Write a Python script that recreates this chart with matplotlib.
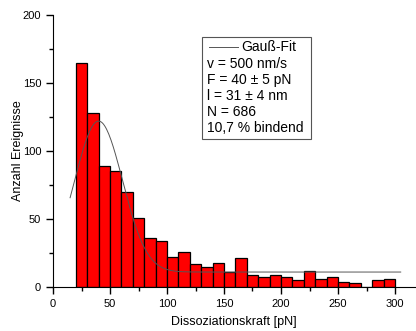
import numpy as np
import matplotlib.pyplot as plt
from matplotlib.patches import Rectangle
from matplotlib.lines import Line2D

plt.rcParams['font.family'] = ['Liberation Sans', 'DejaVu Sans']

# Histogramm der Dissoziationskräfte (10 pN Klassen)
bin_edges = np.arange(20, 310, 10)
counts = [165, 128, 89, 85, 70, 51, 36, 34, 22, 26, 17, 15, 18, 11, 21,
          9, 7, 9, 7, 5, 12, 6, 7, 4, 3, 0, 5, 6]

# Gauß-Fit Parameter
y0 = 11
amp = 111
xc = 40
sigma = 21
fit_x = np.linspace(15, 305, 300)
fit_y = y0 + amp * np.exp(-(fit_x - xc) ** 2 / (2 * sigma ** 2))

info_lines = ['v = 500 nm/s', 'F = 40 ± 5 pN', 'l = 31 ± 4 nm',
              'N = 686', '10,7 % bindend']

fig = plt.figure(figsize=(4.16, 3.31), dpi=100)
ax = fig.add_axes([53 / 416, 1 - 287 / 331, 362 / 416, 272 / 331])

ax.bar(bin_edges[:-1], counts, width=10, align='edge', color='#ff0000',
       edgecolor='black', linewidth=0.9)
ax.plot(fit_x, fit_y, color='#555555', linewidth=0.7)

ax.set_xlim(0, 362 / 1.14)
ax.set_ylim(0, 200)
ax.set_xticks(np.arange(0, 301, 50))
ax.set_xticks(np.arange(25, 301, 50), minor=True)
ax.set_yticks(np.arange(0, 201, 50))
ax.set_yticks(np.arange(25, 200, 50), minor=True)
ax.tick_params(which='major', direction='out', length=5, width=1, labelsize=8)
ax.tick_params(which='minor', direction='out', length=3, width=1)
for side in ['top', 'right']:
    ax.spines[side].set_visible(False)
ax.set_xlabel('Dissoziationskraft [pN]', fontsize=9, labelpad=5)
ax.set_ylabel('Anzahl Ereignisse', fontsize=9, labelpad=-1)

# Infobox
def px(x, y):
    return ((x - 53) / 362, (287 - y) / 272)

bx0, by0 = px(202, 139)
bx1, by1 = px(311, 37)
ax.add_patch(Rectangle((bx0, by0), bx1 - bx0, by1 - by0, transform=ax.transAxes,
                       facecolor='white', edgecolor='#555555', linewidth=0.8,
                       zorder=5))
lx0, ly = px(209, 47)
lx1, _ = px(238, 47)
ax.add_line(Line2D([lx0, lx1], [ly, ly], transform=ax.transAxes,
                   color='#555555', linewidth=0.7, zorder=6))
tx, _ = px(241, 47)
ax.text(tx, ly, 'Gauß-Fit', transform=ax.transAxes, fontsize=10,
        va='center', ha='left', zorder=6)
for i, line in enumerate(info_lines):
    x, y = px(207, 63.5 + i * 16.2)
    ax.text(x, y, line, transform=ax.transAxes, fontsize=10,
            va='center', ha='left', zorder=6)

plt.savefig('out.png', dpi=100)
